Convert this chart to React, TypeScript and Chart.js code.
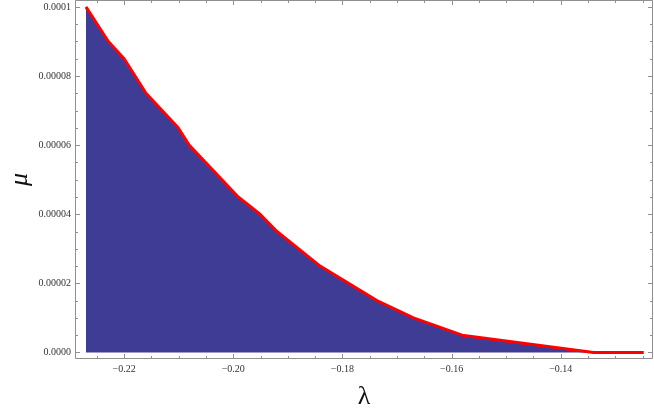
import React, { useEffect, useRef } from "react";
import { Chart, registerables } from "chart.js";

Chart.register(...registerables);

const lambdaValues = [-0.227, -0.2229, -0.22, -0.216, -0.2101, -0.2081, -0.1991, -0.1951, -0.192, -0.1841, -0.1737, -0.167, -0.1581, -0.134, -0.1248];
const muValues = [0.0001, 0.00009, 0.000085, 0.000075, 0.000065, 0.00006, 0.000045, 0.00004, 0.000035, 0.000025, 0.000015, 0.00001, 0.000005, 0, 0];

const xTickValues = [-0.22, -0.2, -0.18, -0.16, -0.14];
const xTickLabels = ["\u22120.22", "\u22120.20", "\u22120.18", "\u22120.16", "\u22120.14"];
const yTickValues = [0, 0.00002, 0.00004, 0.00006, 0.00008, 0.0001];
const yTickLabels = ["0.0000", "0.00002", "0.00004", "0.00006", "0.00008", "0.0001"];
const xMinorStep = 0.005;
const yMinorStep = 0.000005;

const frameColor = "#8f8f8f";
const serif = "'Liberation Serif', 'DejaVu Serif', serif";
const labelFont = { family: serif, size: 10 };

const framePlugin = {
  id: "frameTicks",
  afterDatasetsDraw(chart: any) {
    const { ctx, chartArea } = chart;
    const xs = chart.scales.x;
    const ys = chart.scales.y;
    const { left, right, top, bottom } = chartArea;
    ctx.save();
    ctx.strokeStyle = frameColor;
    ctx.lineWidth = 1;
    ctx.beginPath();
    ctx.rect(Math.round(left) + 0.5, Math.round(top) + 0.5, Math.round(right - left) - 1, Math.round(bottom - top) - 1);
    ctx.stroke();
    const isMajor = (v: number, majors: number[], eps: number) => majors.some((m) => Math.abs(m - v) < eps);
    for (let i = -46; i <= -24; i++) {
      const v = i * xMinorStep;
      if (v < xs.min || v > xs.max) continue;
      const px = Math.round(xs.getPixelForValue(v)) + 0.5;
      const len = isMajor(v, xTickValues, 1e-6) ? 5 : 3;
      ctx.beginPath();
      ctx.moveTo(px, bottom);
      ctx.lineTo(px, bottom - len);
      ctx.moveTo(px, top);
      ctx.lineTo(px, top + len);
      ctx.stroke();
    }
    for (let i = 0; i <= 20; i++) {
      const v = i * yMinorStep;
      if (v < ys.min || v > ys.max) continue;
      const py = Math.round(ys.getPixelForValue(v)) + 0.5;
      const len = isMajor(v, yTickValues, 1e-9) ? 5 : 3;
      ctx.beginPath();
      ctx.moveTo(left, py);
      ctx.lineTo(left + len, py);
      ctx.moveTo(right, py);
      ctx.lineTo(right - len, py);
      ctx.stroke();
    }
    ctx.restore();
  },
};

export default function App() {
  const canvasRef = useRef<HTMLCanvasElement | null>(null);
  useEffect(() => {
    const canvas = canvasRef.current;
    if (!canvas) return;
    const chart = new Chart(canvas, {
      type: "line",
      data: {
        datasets: [
          {
            data: lambdaValues.map((x, i) => ({ x, y: muValues[i] })),
            borderColor: "#ff0000",
            borderWidth: 3,
            backgroundColor: "#3f3c96",
            fill: "origin",
            pointRadius: 0,
            tension: 0,
            borderJoinStyle: "round",
          },
        ],
      },
      options: {
        responsive: false,
        animation: false,
        layout: { padding: { top: 0, right: 1, left: 0, bottom: 0 } },
        plugins: { legend: { display: false }, tooltip: { enabled: false } },
        scales: {
          x: {
            type: "linear",
            min: -0.229,
            max: -0.1231,
            afterBuildTicks: (scale: any) => {
              scale.ticks = xTickValues.map((v) => ({ value: v }));
            },
            afterFit: (scale: any) => {
              scale.height = 54;
              scale.paddingLeft = 0;
              scale.paddingRight = 0;
            },
            grid: { display: false, drawTicks: false },
            border: { display: false },
            ticks: {
              autoSkip: false,
              maxRotation: 0,
              padding: 4,
              color: "#333",
              font: labelFont,
              callback: (_v: any, i: number) => xTickLabels[i],
            },
            title: {
              display: true,
              text: "\u03bb",
              color: "#111",
              font: { family: serif, size: 26 },
              padding: { top: 0, bottom: 0 },
            },
          },
          y: {
            type: "linear",
            min: -0.0000019,
            max: 0.000102,
            afterBuildTicks: (scale: any) => {
              scale.ticks = yTickValues.map((v) => ({ value: v }));
            },
            afterFit: (scale: any) => {
              scale.width = 75;
              scale.paddingTop = 0;
              scale.paddingBottom = 0;
            },
            grid: { display: false, drawTicks: false },
            border: { display: false },
            ticks: {
              autoSkip: false,
              padding: 4,
              color: "#333",
              font: labelFont,
              callback: (_v: any, i: number) => yTickLabels[i],
            },
            title: {
              display: true,
              text: "\u03bc",
              color: "#111",
              font: { family: serif, size: 26, style: "italic" },
              padding: { top: 5, bottom: 0 },
            },
          },
        },
      },
      plugins: [framePlugin],
    } as any);
    return () => chart.destroy();
  }, []);
  return (
    <div style={{ position: "fixed", left: 0, top: 0, width: 654, height: 413, background: "#fff" }}>
      <canvas ref={canvasRef} width={654} height={413} style={{ display: "block" }} />
    </div>
  );
}
